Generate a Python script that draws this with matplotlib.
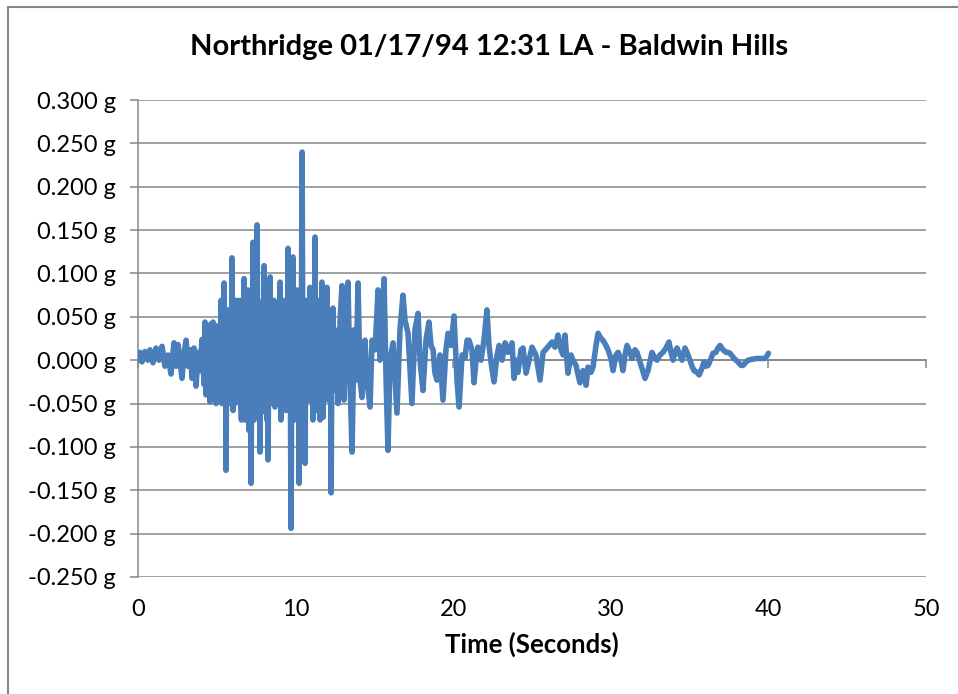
import matplotlib.pyplot as plt
from matplotlib.patches import Rectangle
from matplotlib.ticker import FuncFormatter, MultipleLocator

plt.rcParams['font.family'] = ['Lato', 'DejaVu Sans']

# ground acceleration record, time in seconds, acceleration in g
# first arrivals
time_early = [
    0.00, 0.13, 0.25, 0.44, 0.63, 0.76, 0.95, 1.14, 1.33, 1.52,
    1.71, 1.90, 2.09, 2.28, 2.41, 2.54, 2.66, 2.79, 2.92, 3.05,
    3.17, 3.30, 3.43, 3.55, 3.68, 3.81, 3.93, 4.06, 4.19,
]
accel_early = [
    0.000, 0.009, -0.002, 0.010, 0.000, 0.012, -0.003, 0.014, 0.000, 0.016,
    -0.007, 0.006, -0.016, 0.020, -0.007, 0.018, -0.002, -0.021, 0.009, 0.023,
    -0.007, 0.012, -0.021, 0.014, -0.030, 0.009, -0.012, 0.024, -0.028,
]

# strong shaking
time_strong = [
    4.25, 4.31, 4.38, 4.44, 4.50, 4.56, 4.63, 4.69, 4.76, 4.82,
    4.89, 4.95, 5.01, 5.08, 5.14, 5.20, 5.27, 5.33, 5.39, 5.42,
    5.46, 5.52, 5.55, 5.58, 5.64, 5.68, 5.71, 5.77, 5.84, 5.90,
    5.96, 6.03, 6.09, 6.15, 6.22, 6.28, 6.34, 6.41, 6.47, 6.53,
    6.56, 6.63, 6.68, 6.73, 6.79, 6.85, 6.91, 6.98, 7.04, 7.10,
    7.17, 7.23, 7.26, 7.30, 7.36, 7.42, 7.48, 7.55, 7.61, 7.66,
    7.74, 7.80, 7.87, 7.93, 7.96, 8.00, 8.06, 8.12, 8.18, 8.21,
    8.25, 8.31, 8.34, 8.38, 8.44, 8.50, 8.56, 8.63, 8.69, 8.72,
    8.82, 8.88, 8.94, 9.01, 9.07, 9.10, 9.17, 9.23, 9.26, 9.33,
    9.39, 9.45, 9.52, 9.58, 9.64, 9.71, 9.77, 9.80, 9.83, 9.90,
    9.96, 10.02, 10.09, 10.15, 10.18, 10.22, 10.28, 10.34, 10.41, 10.47,
    10.53, 10.60, 10.66, 10.72, 10.79, 10.85, 10.91, 10.98, 11.04, 11.10,
    11.17, 11.20, 11.23, 11.29, 11.36, 11.42, 11.49, 11.55, 11.61, 11.64,
    11.67, 11.74, 11.80, 11.87, 11.93, 11.96, 11.99, 12.06, 12.12, 12.18,
    12.21, 12.25, 12.31, 12.37, 12.44, 12.50, 12.56, 12.63,
]
accel_strong = [
    0.044, -0.040, 0.040, -0.035, 0.038, -0.048, 0.042, -0.040, 0.044, -0.045,
    0.040, -0.050, 0.035, -0.045, 0.040, -0.030, 0.069, -0.050, 0.050, -0.040,
    0.089, -0.050, 0.030, -0.127, 0.040, -0.045, 0.058, -0.050, 0.040, -0.046,
    0.118, -0.058, 0.050, -0.050, 0.069, -0.045, 0.045, -0.040, 0.069, -0.050,
    -0.069, 0.050, -0.050, 0.094, -0.069, 0.060, -0.060, 0.081, -0.081, 0.050,
    -0.142, 0.060, -0.040, 0.136, -0.069, 0.070, -0.050, 0.156, -0.046, 0.050,
    -0.106, 0.060, -0.050, 0.069, -0.030, 0.109, -0.060, 0.060, -0.069, 0.050,
    -0.115, 0.060, -0.040, 0.096, -0.050, 0.050, -0.046, 0.069, -0.054, 0.030,
    -0.040, 0.058, -0.050, 0.090, -0.069, 0.030, -0.050, 0.040, -0.030, 0.069,
    -0.058, -0.020, 0.129, -0.046, 0.060, -0.194, 0.060, -0.030, 0.119, -0.069,
    0.060, -0.060, 0.081, -0.050, 0.040, -0.142, 0.069, -0.050, 0.240, -0.069,
    0.050, -0.119, 0.069, -0.046, 0.060, -0.046, 0.084, -0.046, 0.050, -0.069,
    0.050, -0.030, 0.142, -0.058, 0.050, -0.050, 0.069, -0.069, 0.050, -0.040,
    0.090, -0.066, 0.040, -0.040, 0.058, -0.030, 0.084, -0.046, 0.040, -0.040,
    0.030, -0.153, 0.030, 0.060, -0.035, 0.035, -0.030, 0.030,
]

# coda
time_late = [
    12.69, 12.82, 12.94, 13.07, 13.20, 13.32,
    13.45, 13.58, 13.71, 13.83, 13.96, 14.09, 14.21, 14.40, 14.53, 14.72,
    14.85, 15.04, 15.23, 15.35, 15.48, 15.61, 15.74, 15.86, 15.99, 16.18,
    16.31, 16.43, 16.62, 16.81, 16.94, 17.13, 17.26, 17.38, 17.57, 17.77,
    17.89, 18.08, 18.27, 18.46, 18.59, 18.72, 18.84, 18.97, 19.16, 19.35,
    19.54, 19.67, 19.86, 20.05, 20.24, 20.37, 20.56, 20.75, 20.88, 21.00,
    21.19, 21.32, 21.45, 21.57, 21.76, 21.95, 22.14, 22.27, 22.40, 22.59,
    22.78, 22.91, 23.10, 23.29, 23.48, 23.73, 23.86, 23.98, 24.11, 24.30,
    24.43, 24.62, 24.81, 25.00, 25.25, 25.51, 25.70, 25.95, 26.27, 26.46,
    26.65, 26.84, 26.97, 27.09, 27.28, 27.47, 27.60, 27.79, 28.04, 28.24,
    28.43, 28.55, 28.74, 28.87, 29.06, 29.19, 29.38, 29.50, 29.69, 29.82,
    30.01, 30.14, 30.33, 30.46, 30.65, 30.77, 30.90, 31.03, 31.22, 31.34,
    31.53, 31.66, 31.92, 32.17, 32.36, 32.61, 32.80, 32.93, 33.12, 33.31,
    33.50, 33.69, 33.82, 33.95, 34.07, 34.20, 34.39, 34.52, 34.71, 34.90,
    35.02, 35.15, 35.28, 35.47, 35.60, 35.79, 35.91, 36.04, 36.17, 36.36,
    36.48, 36.67, 36.80, 36.93, 37.12, 37.31, 37.44, 37.56, 37.82, 38.07,
    38.26, 38.39, 38.58, 38.71, 38.96, 39.28, 39.53, 39.78, 39.91, 40.00,
]
accel_late = [
    -0.050, 0.046, 0.086, -0.046, 0.035, 0.090,
    -0.023, -0.106, 0.035, -0.023, 0.089, -0.023, -0.043, 0.023, -0.023, -0.054,
    0.023, 0.012, 0.081, 0.000, 0.035, 0.094, -0.023, -0.104, 0.000, 0.020,
    -0.023, -0.061, 0.035, 0.075, 0.046, 0.031, -0.012, -0.050, 0.035, 0.054,
    0.000, -0.035, 0.023, 0.044, 0.017, 0.012, -0.015, -0.023, 0.006, -0.046,
    0.012, 0.031, 0.017, 0.051, -0.023, -0.054, 0.006, 0.003, 0.023, 0.023,
    0.012, -0.026, 0.000, 0.015, 0.000, 0.023, 0.058, 0.017, -0.003, -0.025,
    0.006, 0.017, 0.000, 0.020, 0.009, 0.020, -0.021, 0.000, -0.014, 0.012,
    0.014, -0.015, 0.000, 0.015, 0.006, -0.023, 0.009, 0.014, 0.021, 0.015,
    0.029, 0.012, 0.006, 0.029, -0.015, 0.006, 0.000, -0.006, -0.026, -0.012,
    -0.029, -0.008, -0.014, -0.008, 0.017, 0.031, 0.025, 0.023, 0.017, 0.012,
    0.002, -0.012, 0.006, 0.009, 0.000, -0.012, 0.006, 0.017, 0.009, 0.002,
    0.012, 0.009, -0.006, -0.021, -0.012, 0.009, 0.002, 0.000, 0.006, 0.009,
    0.014, 0.021, 0.009, 0.000, 0.009, 0.014, 0.006, 0.000, 0.014, 0.006,
    0.000, -0.007, -0.012, -0.014, -0.017, -0.009, -0.002, -0.007, -0.006, 0.002,
    0.008, 0.009, 0.014, 0.017, 0.012, 0.009, 0.009, 0.008, 0.002, -0.002,
    -0.006, -0.006, -0.002, 0.000, 0.001, 0.002, 0.002, 0.002, 0.005, 0.008,
]

time_s = time_early + time_strong + time_late
accel_g = accel_early + accel_strong + accel_late

line_blue = '#4a7ebb'
grid_gray = '#868686'

fig = plt.figure(figsize=(9.58, 6.94), dpi=100)
ax = fig.add_axes([0.1441, 0.1686, 0.8225, 0.6873])

ax.plot(time_s, accel_g, color=line_blue, lw=4.0,
        solid_joinstyle='round', solid_capstyle='round', zorder=3)

ax.set_xlim(0, 50)
ax.set_ylim(-0.25, 0.30)
ax.yaxis.set_major_locator(MultipleLocator(0.05))
ax.set_xticks(range(0, 51, 10))
ax.yaxis.set_major_formatter(FuncFormatter(lambda v, p: f"{v:.3f} g"))
ax.grid(axis='y', color=grid_gray, lw=1.1, zorder=1)

for side in ['top', 'right']:
    ax.spines[side].set_visible(False)
ax.spines['left'].set_color(grid_gray)
ax.spines['left'].set_linewidth(1.1)
# horizontal axis crosses at zero acceleration
ax.spines['bottom'].set_position(('data', 0))
ax.spines['bottom'].set_color(grid_gray)
ax.spines['bottom'].set_linewidth(1.1)
ax.tick_params(axis='x', direction='out', length=6, width=1.1,
               color=grid_gray, labelbottom=False)
ax.tick_params(axis='y', direction='out', length=6, width=1.1,
               color=grid_gray, labelsize=17, pad=10)

# time labels sit below the plot area
low = ax.secondary_xaxis('bottom')
low.spines['bottom'].set_visible(False)
low.set_xticks(range(0, 51, 10))
low.tick_params(length=0, labelsize=17, pad=16)
low.set_xlabel('Time (Seconds)', fontsize=18.5, fontweight='bold', labelpad=8)

fig.text(489 / 958, 1 - 47 / 694, 'Northridge 01/17/94 12:31 LA - Baldwin Hills',
         ha='center', va='center', fontsize=21, fontweight='bold')

fig.patches.append(Rectangle((8 / 958, -0.1), 1.2, 1.1 - 7 / 694,
                             transform=fig.transFigure, fill=False,
                             edgecolor=grid_gray, lw=1.5))

fig.savefig('out.png', dpi=100)
